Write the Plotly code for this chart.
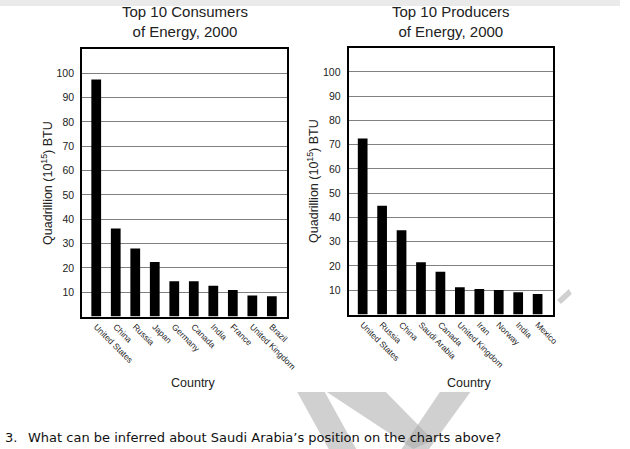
import plotly.graph_objects as go

# Data
consumers = ["United States", "China", "Russia", "Japan", "Germany",
             "Canada", "India", "France", "United Kingdom", "Brazil"]
consumption = [97.5, 36.2, 28.0, 22.4, 14.5, 14.5, 12.6, 10.9, 8.6, 8.3]

producers = ["United States", "Russia", "China", "Saudi Arabia", "Canada",
             "United Kingdom", "Iran", "Norway", "India", "Mexico"]
production = [72.6, 44.8, 34.7, 21.5, 17.6, 11.2, 10.5, 10.1, 9.2, 8.5]

y_ticks = [10, 20, 30, 40, 50, 60, 70, 80, 90, 100]

W, H = 630, 449


def px(x):
    return x / W


def py(y):
    return 1 - y / H


fig = go.Figure()
fig.add_bar(x=consumers, y=consumption, width=0.5, marker_color="black",
            marker_line_width=0, xaxis="x", yaxis="y")
fig.add_bar(x=producers, y=production, width=0.5, marker_color="black",
            marker_line_width=0, xaxis="x2", yaxis="y2")

axis_font = dict(family="Liberation Sans, Arial", size=10.5, color="#222")
cat_font = dict(family="Liberation Sans, Arial", size=8.5, color="#222")

common_x = dict(type="category", tickangle=45, tickfont=cat_font,
                showline=True, linecolor="black", linewidth=2, mirror=True,
                ticks="", showgrid=False, range=[-0.72, 9.78], fixedrange=True)
common_y = dict(range=[0, 110], tickvals=y_ticks, tickfont=axis_font,
                showline=True, linecolor="black", linewidth=2, mirror=True,
                ticks="outside", ticklen=4, tickcolor="rgba(0,0,0,0)",
                showgrid=True, gridcolor="#808080", gridwidth=1, zeroline=False)

fig.update_layout(
    width=W, height=H,
    margin=dict(l=0, r=0, t=0, b=0),
    paper_bgcolor="white", plot_bgcolor="white",
    showlegend=False,
    xaxis=dict(common_x, domain=[px(83.5), px(291.7)], anchor="y"),
    yaxis=dict(common_y, domain=[py(316.5), py(49)], anchor="x"),
    xaxis2=dict(common_x, domain=[px(354.3), px(561.7)], anchor="y2"),
    yaxis2=dict(common_y, domain=[py(314.5), py(47.7)], anchor="x2"),
)

title_font = dict(family="Liberation Sans, Arial", size=15, color="#222")
label_font = dict(family="Liberation Sans, Arial", size=12.5, color="#222")

notes = [
    dict(x=px(188), y=py(21.5), text="Top 10 Consumers<br>of Energy, 2000", font=title_font),
    dict(x=px(458), y=py(21.5), text="Top 10 Producers<br>of Energy, 2000", font=title_font),
    dict(x=px(47.7), y=py(183), text="Quadrillion (10<sup>15</sup>) BTU", textangle=-90, font=label_font),
    dict(x=px(318), y=py(181), text="Quadrillion (10<sup>15</sup>) BTU", textangle=-90, font=label_font),
    dict(x=px(197), y=py(383), text="Country", font=label_font),
    dict(x=px(477.5), y=py(383), text="Country", font=label_font),
]
for n in notes:
    fig.add_annotation(xref="paper", yref="paper", showarrow=False,
                       xanchor="center", yanchor="middle", **n)

q_font = dict(family="DejaVu Sans, Verdana", size=13, color="#111")
fig.add_annotation(xref="paper", yref="paper", showarrow=False, x=px(3), y=py(437),
                   xanchor="left", yanchor="middle", text="3.", font=q_font)
fig.add_annotation(xref="paper", yref="paper", showarrow=False, x=px(26), y=py(437),
                   xanchor="left", yanchor="middle", font=q_font,
                   text="What can be inferred about Saudi Arabia’s position on the charts above?")


# faint watermark strokes and top shadow band
def poly(points):
    return "M " + " L ".join(f"{px(a):.4f},{py(b):.4f}" for a, b in points) + " Z"


wm = "rgba(170,170,170,0.55)"
for pts in [
    [(302, 392), (330, 392), (362, 449), (334, 449)],
    [(332, 392), (392, 392), (440, 440), (420, 449)],
    [(447, 392), (478, 392), (436, 449), (408, 449)],
    [(566, 300), (578, 289), (581, 294), (570, 304)],
]:
    fig.add_shape(type="path", path=poly(pts), xref="paper", yref="paper",
                  fillcolor=wm, line_width=0, layer="below")

fig.add_shape(type="rect", xref="paper", yref="paper", x0=0, x1=1, y0=py(6), y1=1,
              fillcolor="rgba(220,220,220,0.6)", line_width=0, layer="below")

# drop the page's default body margin so the figure sits at the window corner
fig.write_html("out.html", config={"displayModeBar": False},
               post_script="document.body.style.margin='0';")
